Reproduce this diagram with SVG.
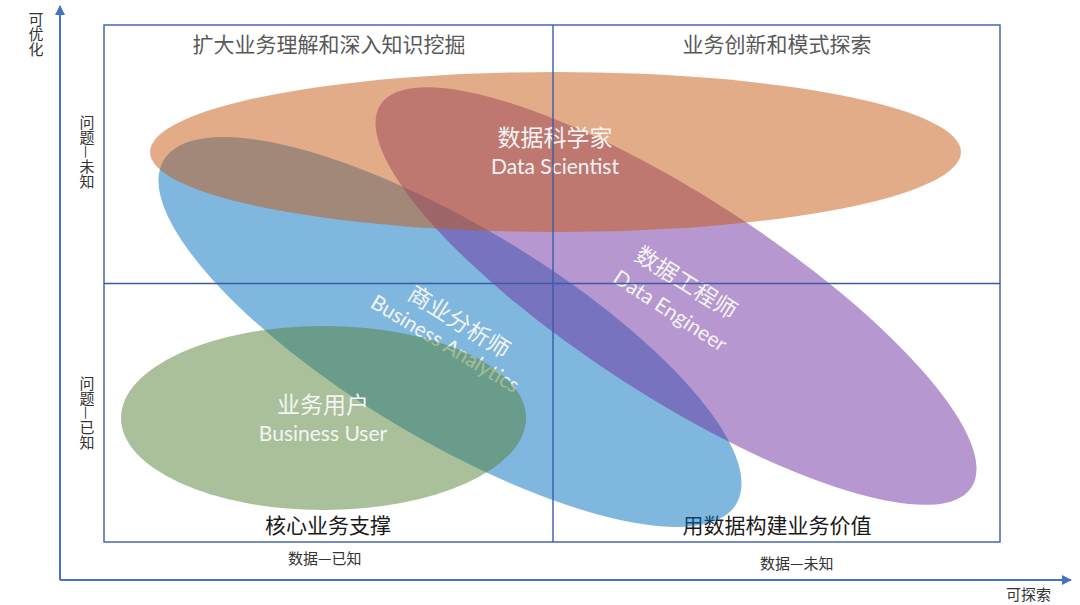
<svg xmlns="http://www.w3.org/2000/svg" width="1080" height="605" viewBox="0 0 1080 605">
<style>
.cjk{font-family:"Noto Sans CJK SC","Noto Sans",sans-serif}
.head{font-size:21px;fill:#595959;text-anchor:middle}
.foot{font-size:21px;fill:#1a1a1a;text-anchor:middle}
.ax{font-size:15px;fill:#333333}
.vt{font-size:15px;fill:#333333;writing-mode:vertical-rl}
.lbl{font-size:23px;fill:#f4f4f4;text-anchor:middle}
.en{font-family:Lato,"Open Sans",sans-serif;font-size:21px;fill:#f4f4f4;text-anchor:middle}
.grid{fill:none;stroke:#3a5ca8;stroke-width:1.4}
.axis{stroke:#4472c4;stroke-width:2;fill:none}
</style>
<defs>
<marker id="arr" viewBox="0 0 10 10" refX="9" refY="5" markerWidth="5" markerHeight="5" orient="auto" markerUnits="strokeWidth">
<path d="M0,0 L10,5 L0,10 z" fill="#4472c4"/>
</marker>
</defs>
<rect width="1080" height="605" fill="#ffffff"/>

<g id="quadrant-labels" class="cjk">
<text class="head" x="329" y="52">扩大业务理解和深入知识挖掘</text>
<text class="head" x="777" y="52">业务创新和模式探索</text>
<text class="foot" x="328" y="533">核心业务支撑</text>
<text class="foot" x="777" y="533">用数据构建业务价值</text>
</g>

<g id="business-analyst">
<ellipse cx="450" cy="332" rx="334" ry="107" transform="rotate(31 450 332)" fill="#0070c0" fill-opacity="0.5"/>
<g transform="translate(459 322) rotate(32)"><text class="cjk lbl" x="0" y="8">商业分析师</text></g>
<g transform="translate(445 344) rotate(31)"><text class="en" x="0" y="7">Business Analytics</text></g>
</g>

<g id="data-engineer">
<ellipse cx="676" cy="296" rx="352" ry="100" transform="rotate(32.9 676 296)" fill="#7030a0" fill-opacity="0.5"/>
<g transform="translate(686 283) rotate(32)"><text class="cjk lbl" x="0" y="8">数据工程师</text></g>
<g transform="translate(670 311) rotate(33)"><text class="en" x="0" y="7">Data Engineer</text></g>
</g>

<g id="data-scientist">
<ellipse cx="555.5" cy="152" rx="405.5" ry="80" fill="#c65911" fill-opacity="0.5"/>
<text class="cjk lbl" x="555" y="146">数据科学家</text>
<text class="en" x="555" y="174">Data Scientist</text>
</g>

<g id="business-user">
<ellipse cx="323.5" cy="418" rx="202.5" ry="92" fill="#548235" fill-opacity="0.5"/>
<text class="cjk lbl" x="323" y="413">业务用户</text>
<text class="en" x="323" y="441">Business User</text>
</g>

<g id="connectors">
<rect class="grid" x="104" y="25" width="896" height="517"/>
<line class="grid" x1="553" y1="25" x2="553" y2="542"/>
<line class="grid" x1="104" y1="283.5" x2="1000" y2="283.5"/>
<line class="axis" x1="60" y1="580" x2="60" y2="6" marker-end="url(#arr)"/>
<line class="axis" x1="60" y1="580" x2="1071" y2="580" marker-end="url(#arr)"/>
</g>

<g id="axis-labels" class="cjk">
<text class="vt" x="36" y="12">可优化</text>
<text class="vt" x="87" y="115">问题—未知</text>
<text class="vt" x="87" y="376">问题—已知</text>
<text class="ax" x="288" y="564">数据—已知</text>
<text class="ax" x="760" y="569">数据—未知</text>
<text class="ax" x="1006" y="600">可探索</text>
</g>
</svg>
